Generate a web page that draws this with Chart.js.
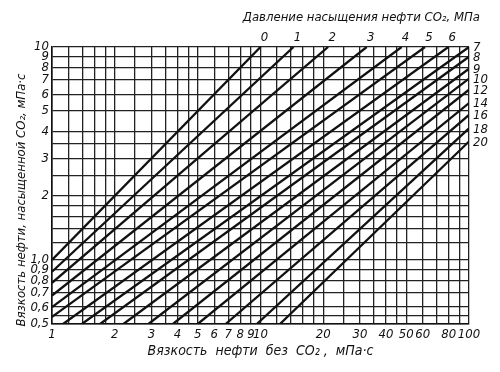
<!DOCTYPE html>
<html>
<head>
<meta charset="utf-8">
<script src="https://cdn.jsdelivr.net/npm/chart.js@4"></script>
<style>
  html, body { margin: 0; padding: 0; background: #fff; }
  #wrap { width: 500px; height: 372px; }
</style>
</head>
<body>
<div id="wrap"><canvas id="nomo" width="500" height="372"></canvas></div>
<script>
// saturation pressure of CO2, MPa (one line each)
const pressures = ['0', '1', '2', '3', '4', '5', '6', '7', '8', '9', '10', '12', '14', '16', '18', '20'];
// where each line enters the grid (lower-left) and leaves it (upper-right)
const startX = [1, 1, 1, 1, 1, 1, 1.13, 1.39, 1.7, 2.2, 2.9, 3.8, 5.0, 6.8, 9.6, 12.4];
const startY = [1.0, 0.88, 0.78, 0.68, 0.6, 0.54, 0.5, 0.5, 0.5, 0.5, 0.5, 0.5, 0.5, 0.5, 0.5, 0.5];
const endX = [10, 14.4, 21.1, 32.3, 47.5, 61.5, 79.6, 100, 100, 100, 100, 100, 100, 100, 100, 100];
const endY = [10, 10, 10, 10, 10, 10, 10, 10, 9.0, 7.9, 7.1, 6.3, 5.45, 4.8, 4.15, 3.6];

// grid and tick labels
const gridX = [1, 1.2, 1.4, 1.6, 1.8, 2, 2.5, 3, 3.5, 4, 4.5, 5, 6, 7, 8, 9, 10, 12, 14, 16, 18, 20, 25, 30, 35, 40, 45, 50, 60, 70, 80, 90, 100];
const xTickLabels = [1, 2, 3, 4, 5, 6, 7, 8, 9, 10, 20, 30, 40, 50, 60, 80, 100];
const gridY = [0.5, 0.55, 0.6, 0.7, 0.8, 0.9, 1, 1.2, 1.4, 1.6, 1.8, 2, 2.5, 3, 3.5, 4, 5, 6, 7, 8, 9, 10];
const yTickLabels = [0.5, 0.6, 0.7, 0.8, 0.9, 1, 2, 3, 4, 5, 6, 7, 8, 9, 10];

const FONT = '"DejaVu Sans Condensed", "Liberation Sans Narrow", sans-serif';

const datasets = pressures.map((p, i) => ({
    label: p + ' МПа',
    data: [{ x: startX[i], y: startY[i] }, { x: endX[i], y: endY[i] }],
    showLine: true,
    borderColor: '#111',
    borderWidth: 2.3,
    pointRadius: 0,
    fill: false
}));

function near(list, v) {
    return list.some(t => Math.abs(t - v) < 1e-6);
}

// pressure labels at the line ends + top caption + rotated y caption
const lineLabels = {
    id: 'lineLabels',
    afterDatasetsDraw(chart) {
        const { ctx, chartArea, scales } = chart;
        ctx.save();
        ctx.fillStyle = '#111';
        ctx.font = 'italic 13px ' + FONT;
        pressures.forEach((p, i) => {
            if (endX[i] < 100) {
                ctx.textAlign = 'center';
                ctx.textBaseline = 'bottom';
                ctx.fillText(p, scales.x.getPixelForValue(endX[i]) + 4, chartArea.top - 3);
            } else {
                ctx.textAlign = 'left';
                ctx.textBaseline = 'middle';
                ctx.fillText(p, chartArea.right + 4, scales.y.getPixelForValue(endY[i]) + 1);
            }
        });

        ctx.textAlign = 'right';
        ctx.textBaseline = 'middle';
        ctx.fillText('Давление насыщения нефти CO₂, МПа', chartArea.right + 11, 18);

        ctx.translate(22, 200);
        ctx.rotate(-Math.PI / 2);
        ctx.textAlign = 'center';
        ctx.fillText('Вязкость нефти, насыщенной CO₂, мПа·с', 0, 0);
        ctx.restore();
    }
};

new Chart(document.getElementById('nomo'), {
    type: 'scatter',
    data: { datasets: datasets },
    options: {
        responsive: false,
        animation: false,
        devicePixelRatio: 1,
        layout: { padding: { top: 47, right: 31, left: 0, bottom: 0 } },
        plugins: { legend: { display: false }, tooltip: { enabled: false } },
        scales: {
            x: {
                type: 'logarithmic',
                min: 1,
                max: 100,
                afterBuildTicks: s => { s.ticks = gridX.map(v => ({ value: v })); },
                afterFit: s => { s.height = 48; },
                grid: { color: '#222', lineWidth: 1.3, drawTicks: false },
                border: { color: '#111', width: 1.6 },
                ticks: {
                    autoSkip: false,
                    maxRotation: 0,
                    padding: 3,
                    color: '#111',
                    font: { family: FONT, size: 13, style: 'italic' },
                    callback: v => near(xTickLabels, v) ? String(v) : ''
                },
                title: {
                    display: true,
                    text: 'Вязкость  нефти  без  CO₂ ,  мПа·с',
                    color: '#111',
                    font: { family: FONT, size: 14, style: 'italic' },
                    padding: { top: 0, bottom: 12 }
                }
            },
            y: {
                type: 'logarithmic',
                min: 0.5,
                max: 10,
                afterBuildTicks: s => { s.ticks = gridY.map(v => ({ value: v })); },
                afterFit: s => { s.width = 52; },
                grid: { color: '#222', lineWidth: 1.3, drawTicks: false },
                border: { color: '#111', width: 1.6 },
                ticks: {
                    autoSkip: false,
                    padding: 3,
                    color: '#111',
                    font: { family: FONT, size: 13, style: 'italic' },
                    callback: v => {
                        if (!near(yTickLabels, v)) return '';
                        return v <= 1 ? v.toFixed(1).replace('.', ',') : String(v);
                    }
                }
            }
        }
    },
    plugins: [lineLabels]
});
</script>
</body>
</html>
